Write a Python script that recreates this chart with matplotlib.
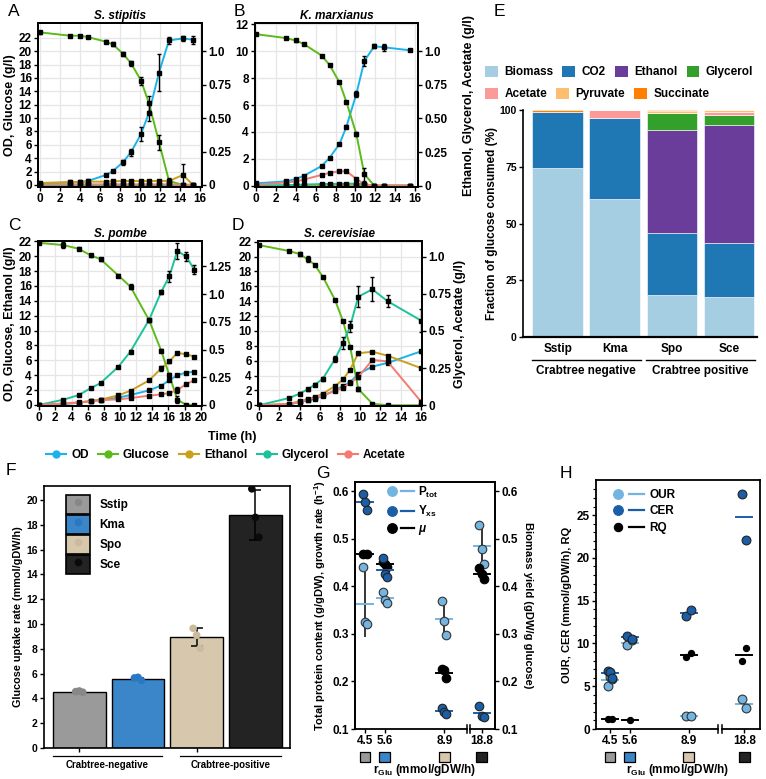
import numpy as np
import matplotlib
matplotlib.use("Agg")
import matplotlib.pyplot as plt
from matplotlib.lines import Line2D
from matplotlib.patches import Patch
from matplotlib.legend_handler import HandlerTuple

plt.rcParams['font.family'] = ['Liberation Sans', 'DejaVu Sans']
plt.rcParams['font.weight'] = 'bold'
plt.rcParams['axes.labelweight'] = 'bold'
plt.rcParams['axes.titleweight'] = 'bold'
plt.rcParams['mathtext.fontset'] = 'custom'
plt.rcParams['mathtext.rm'] = 'Liberation Sans:bold'
plt.rcParams['mathtext.bf'] = 'Liberation Sans:bold'
plt.rcParams['mathtext.it'] = 'Liberation Sans:bold:italic'

# ---------------- time courses (A-D) ----------------
series_names = ['OD', 'Glucose', 'Ethanol', 'Glycerol', 'Acetate']
series_colors = ['#1cb3ec', '#5cbb1a', '#c9a01c', '#1cc39a', '#f47b72']

a_time = [0, 3.0, 4.0, 4.8, 6.6, 7.3, 8.3, 9.1, 10.1, 10.9, 11.9, 12.9, 14.3, 15.3]
a_od = [0.15, 0.4, 0.45, 0.6, 1.5, 2.1, 3.4, 4.9, 7.6, 10.8, 16.8, 21.6, 21.9, 21.7]
a_od_err = [0, 0.2, 0.2, 0.3, 0.2, 0.2, 0.4, 0.5, 1.0, 1.3, 2.8, 0.5, 0.4, 0.6]
a_glc = [22.8, 22.3, 22.3, 22.1, 21.4, 21.0, 19.6, 18.2, 15.6, 12.2, 6.4, 0.6, 0.0, 0.0]
a_glc_err = [0.2, 0.15, 0.15, 0.1, 0.25, 0.3, 0.3, 0.35, 0.6, 1.1, 1.1, 0.4, 0, 0]
a_eth = [0.015, 0.022, 0.022, 0.025, 0.025, 0.028, 0.03, 0.03, 0.03, 0.03, 0.03, 0.03, 0.075, 0.0]
a_eth_err = [0, 0.01, 0.01, 0.01, 0.008, 0.008, 0.008, 0.008, 0.008, 0.01, 0.01, 0.01, 0.085, 0]
a_gly = [0.0, 0.0, 0.0, 0.0, 0.0, 0.0, 0.0, 0.0, 0.0, 0.0, 0.0, 0.0, 0.0, 0.0]
a_ace = [0.005, 0.005, 0.005, 0.005, 0.005, 0.005, 0.005, 0.005, 0.005, 0.005, 0.005, 0.005, 0.003, 0.002]

b_time = [0, 3.0, 4.0, 4.8, 6.6, 7.4, 8.4, 9.1, 10.1, 10.9, 11.9, 12.9, 15.5]
b_od = [0.17, 0.32, 0.49, 0.73, 1.46, 2.07, 3.1, 4.39, 6.83, 9.27, 10.37, 10.29, 10.07]
b_od_err = [0, 0.05, 0.05, 0.05, 0.05, 0.05, 0.08, 0.1, 0.2, 0.35, 0.15, 0.25, 0.08]
b_glc = [11.27, 10.98, 10.8, 10.54, 9.68, 8.98, 7.68, 6.22, 3.83, 0.85, 0.0, 0.0, 0.0]
b_glc_err = [0.05, 0.08, 0.08, 0.05, 0.05, 0.06, 0.08, 0.1, 0.15, 0.5, 0, 0, 0]
b_eth = [0.0, 0.002, 0.003, 0.003, 0.004, 0.004, 0.004, 0.004, 0.004, 0.002, 0.0, 0.0, 0.0]
b_gly = [0.0, 0.004, 0.006, 0.008, 0.012, 0.013, 0.014, 0.015, 0.015, 0.01, 0.0, 0.0, 0.0]
b_ace = [0.005, 0.024, 0.03, 0.045, 0.08, 0.095, 0.107, 0.107, 0.05, 0.01, 0.0, 0.0, 0.0]
b_ace_err = [0, 0.006, 0.006, 0.006, 0.006, 0.008, 0.008, 0.008, 0.01, 0.01, 0, 0, 0]

c_time = [0, 3.0, 4.9, 6.4, 7.6, 9.8, 11.3, 13.6, 15.1, 16.1, 17.1, 18.2, 19.2]
c_od = [0.0, 0.1, 0.3, 0.5, 0.65, 0.98, 1.33, 1.95, 2.6, 3.3, 4.0, 4.35, 4.45]
c_glc = [21.8, 21.5, 21.0, 20.1, 19.6, 17.4, 15.9, 11.4, 7.3, 4.0, 0.7, 0.0, 0.0]
c_glc_err = [0.1, 0.35, 0.2, 0.15, 0.2, 0.2, 0.3, 0.2, 0.25, 0.3, 0.5, 0, 0]
c_eth = [0.0, 0.15, 0.3, 0.53, 0.7, 1.29, 1.9, 3.3, 4.9, 5.85, 7.0, 6.8, 6.5]
c_eth_err = [0, 0.05, 0.05, 0.1, 0.15, 0.1, 0.1, 0.1, 0.3, 0.2, 0.1, 0.1, 0.1]
c_gly = [0.0, 0.047, 0.089, 0.152, 0.197, 0.345, 0.482, 0.768, 1.02, 1.16, 1.39, 1.34, 1.22]
c_gly_err = [0, 0.005, 0.005, 0.005, 0.005, 0.008, 0.01, 0.01, 0.015, 0.05, 0.07, 0.04, 0.04]
c_ace = [0.0, 0.013, 0.023, 0.033, 0.042, 0.05, 0.062, 0.083, 0.095, 0.107, 0.134, 0.188, 0.222]
c_ace_err = [0, 0.004, 0.004, 0.004, 0.005, 0.005, 0.005, 0.005, 0.005, 0.005, 0.03, 0.008, 0.008]

d_time = [0, 3.0, 4.0, 4.8, 5.5, 6.3, 7.5, 8.3, 9.0, 9.8, 11.2, 12.7, 16.0]
d_od = [0.0, 0.1, 0.44, 0.67, 0.89, 1.24, 2.0, 2.58, 3.1, 4.2, 5.2, 5.7, 7.25]
d_od_err = [0, 0.05, 0.1, 0.1, 0.1, 0.1, 0.1, 0.1, 0.15, 0.2, 0.15, 0.15, 0.2]
d_glc = [21.55, 20.75, 20.35, 19.64, 18.9, 17.3, 14.2, 11.3, 7.9, 2.2, 0.2, 0.0, 0.0]
d_glc_err = [0, 0.05, 0.3, 0.4, 0.1, 0.1, 0.15, 0.1, 0.1, 0.3, 0.1, 0, 0]
d_eth = [0.0, 0.2, 0.53, 0.8, 1.1, 1.55, 2.58, 3.47, 4.8, 7.0, 7.2, 6.67, 5.0]
d_eth_err = [0, 0.05, 0.1, 0.1, 0.1, 0.1, 0.1, 0.15, 0.1, 0.2, 0.15, 0.1, 0.1]
d_gly = [0.0, 0.049, 0.078, 0.107, 0.138, 0.178, 0.31, 0.42, 0.53, 0.73, 0.78, 0.70, 0.57]
d_gly_err = [0, 0.005, 0.008, 0.008, 0.01, 0.015, 0.02, 0.04, 0.035, 0.07, 0.08, 0.04, 0.08]
d_ace = [0.0, 0.007, 0.022, 0.038, 0.05, 0.067, 0.095, 0.118, 0.15, 0.19, 0.305, 0.295, 0.025]
d_ace_err = [0, 0.003, 0.004, 0.004, 0.005, 0.005, 0.006, 0.008, 0.01, 0.01, 0.01, 0.01, 0.008]

# ---------------- E: carbon distribution ----------------
e_strains = ['Sstip', 'Kma', 'Spo', 'Sce']
e_products = ['Biomass', 'CO2', 'Ethanol', 'Glycerol', 'Acetate', 'Pyruvate', 'Succinate']
e_colors = ['#a6cee3', '#1f78b4', '#6a3d9a', '#33a02c', '#fb9a99', '#fdbf6f', '#ff7f00']
e_biomass = [74.5, 60.6, 18.7, 17.5]
e_co2 = [24.8, 35.9, 27.2, 24.0]
e_ethanol = [0.0, 0.0, 45.5, 52.1]
e_glycerol = [0.0, 0.0, 7.3, 4.3]
e_acetate = [0.0, 3.5, 0.0, 1.4]
e_pyruvate = [0.0, 0.0, 0.9, 0.7]
e_succinate = [0.7, 0.0, 0.4, 0.0]

# ---------------- F: glucose uptake ----------------
f_strains = ['Sstip', 'Kma', 'Spo', 'Sce']
f_mean = [4.5, 5.6, 8.95, 18.8]
f_err = [0.1, 0.05, 0.75, 2.0]
f_points = [[4.55, 4.6, 4.5], [5.65, 5.7, 5.45], [9.65, 9.1, 8.05], [20.9, 18.6, 17.0]]
f_bar_colors = ['#9a9a9a', '#3a86c9', '#d6c7ad', '#232323']
f_dot_colors = ['#888888', '#2a78c2', '#cbbb9d', '#0a0a0a']

# ---------------- G / H: physiology vs rGlu ----------------
r_glu = [4.5, 5.6, 8.9, 18.8]
r_labels = ['4.5', '5.6', '8.9', '18.8']
g_ptot = [[0.44, 0.325, 0.32], [0.387, 0.371, 0.365], [0.37, 0.326, 0.298], [0.528, 0.478, 0.446]]
g_yxs = [[0.593, 0.578, 0.561], [0.46, 0.425, 0.42], [0.144, 0.136, 0.132], [0.149, 0.127, 0.125]]
g_mu = [[0.467, 0.467], [0.451, 0.447, 0.44], [0.226, 0.223, 0.207], [0.439, 0.425, 0.415]]
h_our = [[5.05, 6.1, 5.9], [9.8, 10.4], [1.55, 1.55], [3.5, 2.4]]
h_cer = [[6.8, 6.7, 6.0], [10.9, 10.5], [13.2, 13.9], [27.45, 22.1]]
h_rq = [[1.15, 1.15], [1.1], [8.4, 8.9], [7.9, 9.45]]

light_blue = '#74b4e0'
dark_blue = '#1a5ea8'

W, H = 766, 779
fig = plt.figure(figsize=(W / 100, H / 100), dpi=100)


def fax(l, t, r, b):
    return fig.add_axes([l / W, 1 - b / H, (r - l) / W, (b - t) / H])


def style_ticks(ax, size=8.5):
    ax.tick_params(direction='out', length=3, width=1, labelsize=size, pad=1.5)
    for s in ax.spines.values():
        s.set_linewidth(1.3)


def course(box, title, t, left, right, ratio, ylim, ytop, xlim, xticks, rticks, rlabels,
           ylabel=None, rlabel=None, rpad=3):
    ax = fax(*box)
    ax2 = ax.twinx()
    for target, group in ((ax, left), (ax2, right)):
        for ys, err, c in group:
            target.plot(t, ys, color=c, lw=1.4, zorder=2)
            target.errorbar(t, ys, yerr=err, fmt='s', ms=2.2, mfc='k', mec='k', ecolor='k',
                            elinewidth=1.0, capsize=1.7, capthick=1.0, zorder=3)
    ax.set_xlim(xlim)
    ax.set_ylim(ylim)
    ax2.set_ylim(ylim[0] / ratio, ylim[1] / ratio)
    ax.set_xticks(xticks)
    ax.set_yticks(range(0, ytop + 1, 2))
    ax2.set_yticks(rticks)
    ax2.set_yticklabels(rlabels)
    ax.grid(True, color='#e6e6e6', lw=0.9)
    ax.set_axisbelow(True)
    ax.set_title(title, style='italic', fontsize=8.5, pad=3)
    style_ticks(ax)
    style_ticks(ax2)
    if ylabel:
        ax.set_ylabel(ylabel, fontsize=9, labelpad=2)
    if rlabel:
        ax2.set_ylabel(rlabel, fontsize=9, labelpad=rpad)
    return ax


col = dict(zip(series_names, series_colors))
z14 = [0] * len(a_time)
course((38, 23, 202, 187), 'S. stipitis', a_time,
       [(a_od, a_od_err, col['OD']), (a_glc, a_glc_err, col['Glucose'])],
       [(a_gly, z14, col['Glycerol']), (a_ace, z14, col['Acetate']), (a_eth, a_eth_err, col['Ethanol'])],
       20, (-0.3, 24.2), 22, (-0.2, 16.2), range(0, 17, 2),
       [0, 0.25, 0.5, 0.75, 1.0], ['0', '0.25', '0.50', '0.75', '1.0'],
       ylabel='OD, Glucose (g/l)')

z13 = [0] * len(b_time)
course((255, 23, 418, 187), 'K. marxianus', b_time,
       [(b_od, b_od_err, col['OD']), (b_glc, b_glc_err, col['Glucose'])],
       [(b_eth, z13, col['Ethanol']), (b_gly, z13, col['Glycerol']), (b_ace, b_ace_err, col['Acetate'])],
       10, (-0.1, 12.1), 12, (-0.1, 16.3), range(0, 17, 2),
       [0, 0.25, 0.5, 0.75, 1.0], ['0', '0.25', '0.50', '0.75', '1.0'],
       rlabel='Ethanol, Glycerol, Acetate (g/l)', rpad=11)

zc = [0] * len(c_time)
course((38, 241, 202, 406), 'S. pombe', c_time,
       [(c_od, zc, col['OD']), (c_glc, c_glc_err, col['Glucose']), (c_eth, c_eth_err, col['Ethanol'])],
       [(c_gly, c_gly_err, col['Glycerol']), (c_ace, c_ace_err, col['Acetate'])],
       14.9, (-0.15, 22.05), 22, (-0.15, 20.15), range(0, 21, 2),
       [0, 0.25, 0.5, 0.75, 1.0, 1.25], ['0', '0.25', '0.5', '0.75', '1.0', '1.25'],
       ylabel='OD, Glucose, Ethanol (g/l)')

course((258, 241, 422, 406), 'S. cerevisiae', d_time,
       [(d_od, d_od_err, col['OD']), (d_glc, d_glc_err, col['Glucose']), (d_eth, d_eth_err, col['Ethanol'])],
       [(d_gly, d_gly_err, col['Glycerol']), (d_ace, d_ace_err, col['Acetate'])],
       20, (-0.1, 22.1), 22, (-0.1, 16.1), range(0, 17, 2),
       [0, 0.25, 0.5, 0.75, 1.0], ['0', '0.25', '0.5', '0.75', '1.0'],
       rlabel='Glycerol, Acetate (g/l)', rpad=2)

fig.text(232 / W, 1 - 437 / H, 'Time (h)', ha='center', va='center', fontsize=9)
handles = [Line2D([], [], color=c, marker='o', ms=5, lw=1.5) for c in series_colors]
fig.legend(handles, series_names, loc='center', bbox_to_anchor=(226 / W, 1 - 455 / H), ncol=5,
           frameon=False, fontsize=8.5, handlelength=1.7, handletextpad=0.4, columnspacing=0.8,
           borderpad=0, borderaxespad=0)

# ---------------- E ----------------
axE = fax(523, 110, 757, 337)
xe = np.arange(len(e_strains))
bottom = np.zeros(len(e_strains))
e_values = [e_biomass, e_co2, e_ethanol, e_glycerol, e_acetate, e_pyruvate, e_succinate]
for vals, c in zip(e_values, e_colors):
    axE.bar(xe, vals, 0.89, bottom=bottom, color=c, edgecolor='white', lw=0.4)
    bottom += np.array(vals)
axE.set_xlim(-0.61, 3.49)
axE.set_ylim(0, 100)
axE.set_yticks([0, 25, 50, 75, 100])
axE.set_xticks(xe)
axE.set_xticklabels(e_strains, fontsize=8.5)
axE.spines['top'].set_visible(False)
axE.spines['right'].set_visible(False)
axE.spines['left'].set_linewidth(1.2)
axE.spines['bottom'].set_linewidth(1.6)
axE.tick_params(axis='y', direction='out', length=3, width=1, labelsize=7.5, pad=1.5)
axE.tick_params(axis='x', length=0, pad=4)
axE.set_ylabel('Fraction of glucose consumed (%)', fontsize=8.5, labelpad=1)
trE = axE.get_xaxis_transform()
for (x0, x1), lab in (((-0.45, 1.45), 'Crabtree negative'), ((1.55, 3.45), 'Crabtree positive')):
    axE.plot([x0, x1], [-0.1, -0.1], color='k', lw=1.0, transform=trE, clip_on=False)
    axE.text((x0 + x1) / 2, -0.122, lab, transform=trE, ha='center', va='top', fontsize=8.5)
patches = [Patch(facecolor=c, edgecolor='none') for c in e_colors]
for rng, yy in ((slice(0, 4), 72), (slice(4, 7), 94)):
    fig.legend(patches[rng], e_products[rng], loc='center left', bbox_to_anchor=(485 / W, 1 - yy / H),
               ncol=4, frameon=False, fontsize=8.5, handlelength=1.1, handleheight=1.1,
               handletextpad=0.55, columnspacing=0.75, borderpad=0, borderaxespad=0)

# ---------------- F ----------------
axF = fax(44, 486, 290, 748)
xf = np.arange(len(f_strains))
axF.bar(xf, f_mean, 0.9, color=f_bar_colors, edgecolor='k', lw=1.0, zorder=1)
axF.errorbar(xf, f_mean, yerr=f_err, fmt='none', ecolor='k', elinewidth=1.1, capsize=4, capthick=1.1, zorder=3)
for i, pts in enumerate(f_points):
    offs = np.linspace(-0.06, 0.06, len(pts))
    axF.scatter(xf[i] + offs, pts, s=30, color=f_dot_colors[i], edgecolor='none', zorder=4)
axF.set_xlim(-0.6, 3.59)
axF.set_ylim(0, 21.13)
axF.set_yticks(range(0, 21, 2))
axF.set_xticks([0, 2])
axF.set_xticklabels([])
style_ticks(axF, 7.5)
for s in axF.spines.values():
    s.set_linewidth(1.2)
axF.set_ylabel('Glucose uptake rate (mmol/gDW/h)', fontsize=7.8, labelpad=2)
trF = axF.get_xaxis_transform()
for (x0, x1), lab in (((-0.45, 1.41), 'Crabtree-negative'), ((1.72, 3.43), 'Crabtree-positive')):
    axF.plot([x0, x1], [-0.03, -0.03], color='k', lw=0.9, transform=trF, clip_on=False)
    axF.text((x0 + x1) / 2, -0.045, lab, transform=trF, ha='center', va='top', fontsize=7)
f_handles = [(Patch(facecolor=bc, edgecolor='k', lw=1.2),
              Line2D([], [], marker='o', ls='', ms=4.5, color=dc))
             for bc, dc in zip(f_bar_colors, f_dot_colors)]
axF.legend(f_handles, f_strains, handler_map={tuple: HandlerTuple(ndivide=1)}, loc='upper left',
           bbox_to_anchor=(0.089, 0.965), frameon=False, fontsize=8.5, handlelength=2.05,
           handleheight=2.05, handletextpad=0.8, labelspacing=0.12, borderpad=0, borderaxespad=0)


# ---------------- G / H helpers ----------------
def pos(v, shift):
    return v if v < 10 else v - shift


def broken_axis(ax, xlim, b1, b2):
    ax.spines['bottom'].set_visible(False)
    tr = ax.get_xaxis_transform()
    ax.plot([xlim[0], b1], [0, 0], color='k', lw=1.3, transform=tr, clip_on=False)
    ax.plot([b2, xlim[1]], [0, 0], color='k', lw=1.3, transform=tr, clip_on=False)
    for b in (b1, b2):
        ax.plot([b, b], [-0.018, 0.018], color='k', lw=1.1, transform=tr, clip_on=False)


def strain_squares(ax, xs, ypos, ylab):
    tr = ax.get_xaxis_transform()
    ax.scatter(xs, [ypos] * len(xs), marker='s', s=60, c=f_bar_colors, edgecolor='k', lw=0.9,
               transform=tr, clip_on=False)
    ax.text(0.5, ylab, r'r$_{\mathrm{Glu}}$ (mmol/gDW/h)', transform=ax.transAxes,
            ha='center', va='center', fontsize=8.5)


def group_points(ax, xs, groups, color, size, edge, lcolor, half=0.45, lw=1.4):
    for x, pts in zip(xs, groups):
        offs = np.linspace(-0.12, 0.12, len(pts)) if len(pts) > 1 else [0]
        ax.scatter(x + np.asarray(offs), pts, s=size, color=color, edgecolor=edge,
                   lw=0.8, zorder=4, clip_on=False)
        m = np.mean(pts)
        ax.plot([x - half, x + half], [m, m], color=lcolor, lw=lw, zorder=3)


# ---------------- G ----------------
g_shift = 7.83
g_xlim = (3.95, 11.71)
axG = fax(355, 482, 495, 729)
xg = [pos(v, g_shift) for v in r_glu]
axG2 = axG.twinx()
for x, pts in zip(xg, g_ptot):
    axG.errorbar(x, np.mean(pts), yerr=np.std(pts, ddof=1), fmt='none', ecolor='k',
                 elinewidth=1.1, capsize=0, zorder=2)
group_points(axG, xg, g_ptot, light_blue, 38, '#333333', light_blue)
group_points(axG2, xg, g_yxs, dark_blue, 38, '#222222', dark_blue)
group_points(axG, xg, g_mu, 'k', 38, 'k', 'k')
for a in (axG, axG2):
    a.set_ylim(0.1, 0.619)
    a.set_yticks([0.1, 0.2, 0.3, 0.4, 0.5, 0.6])
    a.set_yticklabels(['0.1', '0.2', '0.3', '0.4', '0.5', '0.6'])
axG.set_xlim(g_xlim)
axG.set_xticks(xg)
axG.set_xticklabels(r_labels)
style_ticks(axG, 8.5)
style_ticks(axG2, 8.5)
broken_axis(axG, g_xlim, 10.14, 10.32)
axG2.spines['bottom'].set_visible(False)
axG.set_ylabel(r'Total protein content (g/gDW), growth rate (h$^{-1}$)', fontsize=8, labelpad=3)
axG2.set_ylabel('Biomass yield (gDW/g glucose)', fontsize=8, rotation=-90, labelpad=11)
strain_squares(axG, xg, -0.113, -0.167)


def legend_handles(colors, sizes):
    return [(Line2D([], [], marker='o', ls='', ms=ms, mfc=c, mec=c, mew=0.8),
             Line2D([], [], color=c, lw=1.6)) for c, ms in zip(colors, sizes)]


axG.legend(legend_handles([light_blue, dark_blue, 'k'], [7, 7, 7]),
           [r'P$_{\mathrm{tot}}$', r'Y$_{\mathrm{xs}}$', r'$\mathit{\mu}$'],
           handler_map={tuple: HandlerTuple(ndivide=None, pad=0.2)}, loc='upper left',
           bbox_to_anchor=(0.22, 0.99), frameon=False, fontsize=8.5, handlelength=2.4,
           handletextpad=0.3, labelspacing=0.35, borderpad=0, borderaxespad=0)

# ---------------- H ----------------
h_shift = 6.78
h_xlim = (3.72, 12.9)
axH = fax(596, 480, 760, 729)
xh = [pos(v, h_shift) for v in r_glu]
group_points(axH, xh, h_our, light_blue, 40, '#333333', light_blue)
group_points(axH, xh, h_cer, dark_blue, 40, '#222222', dark_blue)
group_points(axH, xh, h_rq, 'k', 20, 'k', 'k')
axH.set_ylim(0, 29.1)
axH.set_yticks([0, 5, 10, 15, 20, 25])
axH.set_yticks(range(0, 29), minor=True)
axH.set_xlim(h_xlim)
axH.set_xticks(xh)
axH.set_xticklabels(r_labels)
style_ticks(axH, 8.5)
axH.tick_params(axis='y', which='minor', length=2, width=0.8)
broken_axis(axH, h_xlim, 10.56, 10.8)
axH.set_ylabel('OUR, CER (mmol/gDW/h), RQ', fontsize=8, labelpad=3)
strain_squares(axH, xh, -0.112, -0.165)
axH.legend(legend_handles([light_blue, dark_blue, 'k'], [7, 7, 6]),
           ['OUR', 'CER', 'RQ'],
           handler_map={tuple: HandlerTuple(ndivide=None, pad=0.3)}, loc='upper left',
           bbox_to_anchor=(0.09, 0.965), frameon=False, fontsize=8.5, handlelength=2.8,
           handletextpad=0.5, labelspacing=0.4, borderpad=0, borderaxespad=0)

# ---------------- panel letters ----------------
for letter, x, y in (('A', 8, 12), ('B', 234, 12), ('C', 8, 226), ('D', 232, 226),
                     ('E', 494, 12), ('F', 6, 470), ('G', 316, 474), ('H', 560, 474)):
    fig.text(x / W, 1 - y / H, letter, fontsize=12.5, fontweight='normal', ha='left', va='center')

fig.savefig('out.png', dpi=100)
